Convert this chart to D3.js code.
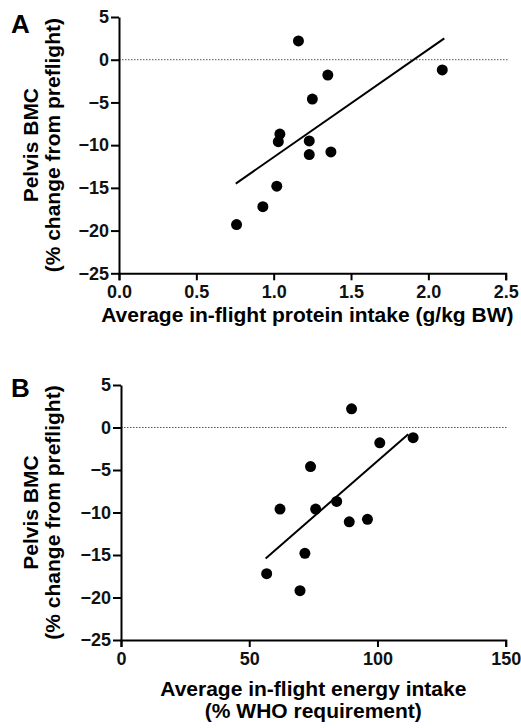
<!DOCTYPE html>
<html>
<head>
<meta charset="utf-8">
<script src="https://cdn.jsdelivr.net/npm/d3@7"></script>
<style>
  body { margin: 0; background: #fff; }
  svg { display: block; font-family: "Liberation Sans", Arial, Helvetica, sans-serif; font-weight: bold; }
  .axis path, .axis line { stroke: #000; stroke-width: 2px; }
  .axis text { font-family: "Liberation Sans", Arial, Helvetica, sans-serif; font-size: 18px; font-weight: bold; fill: #111; }
</style>
</head>
<body>
<div class="graph"></div>
<script>
// panel A: protein intake (g/kg BW) vs pelvis BMC change
var proteinX = [0.76, 0.93, 1.02, 1.03, 1.04, 1.16, 1.23, 1.23, 1.25, 1.35, 1.37, 2.09];
var proteinY = [-19.3, -17.2, -14.8, -9.6, -8.7, 2.2, -9.5, -11.1, -4.6, -1.8, -10.8, -1.2];
var fitA = [[0.755, -14.5], [2.103, 2.5]];

// panel B: energy intake (% WHO requirement) vs pelvis BMC change
var energyX = [56.8, 62.0, 69.8, 71.7, 73.9, 75.9, 84.1, 89.0, 89.9, 96.1, 100.9, 113.9];
var energyY = [-17.2, -9.6, -19.2, -14.8, -4.6, -9.6, -8.7, -11.1, 2.2, -10.8, -1.8, -1.2];
var fitB = [[56.4, -15.4], [112.0, -0.8]];

var yTicks = [5, 0, -5, -10, -15, -20, -25];
var xTicksA = [0.0, 0.5, 1.0, 1.5, 2.0, 2.5];
var xTicksB = [0, 50, 100, 150];

var svg = d3.select(".graph").append("svg")
    .attr("width", 521)
    .attr("height", 728);

function drawPanel(opt) {
  var x = d3.scaleLinear().domain(opt.xDomain).range(opt.xRange);
  var y = d3.scaleLinear().domain([-25, 5]).range(opt.yRange);

  var g = svg.append("g");

  // dotted zero line
  g.append("line")
      .attr("x1", x(opt.xDomain[0]))
      .attr("x2", x(opt.xDomain[1]) + 2)
      .attr("y1", y(0))
      .attr("y2", y(0))
      .attr("stroke", "#555")
      .attr("stroke-width", 1)
      .attr("stroke-dasharray", "1.5,1.5");

  g.append("g")
      .attr("class", "axis")
      .attr("transform", "translate(0," + opt.yRange[0] + ")")
      .call(d3.axisBottom(x).tickValues(opt.xTicks).tickFormat(opt.xFormat)
        .tickSizeOuter(7).tickSizeInner(7).tickPadding(5));

  g.append("g")
      .attr("class", "axis")
      .attr("transform", "translate(" + opt.xRange[0] + ",0)")
      .call(d3.axisLeft(y).tickValues(yTicks).tickFormat(d3.format("d"))
        .tickSizeOuter(0).tickSizeInner(8).tickPadding(2));

  // fit line
  g.append("line")
      .attr("x1", x(opt.fit[0][0]))
      .attr("y1", y(opt.fit[0][1]))
      .attr("x2", x(opt.fit[1][0]))
      .attr("y2", y(opt.fit[1][1]))
      .attr("stroke", "#000")
      .attr("stroke-width", 2);

  g.selectAll(".dot")
      .data(opt.xs)
      .enter().append("circle")
      .attr("class", "dot")
      .attr("cx", function(d) { return x(d); })
      .attr("cy", function(d, i) { return y(opt.ys[i]); })
      .attr("r", 5.5)
      .attr("fill", "#000");

  // y title, two lines
  var cy = (opt.yRange[0] + opt.yRange[1]) / 2;
  g.append("text")
      .attr("transform", "translate(38," + cy + ") rotate(-90)")
      .attr("text-anchor", "middle")
      .style("font-size", "21px")
      .text("Pelvis BMC");
  g.append("text")
      .attr("transform", "translate(60," + cy + ") rotate(-90)")
      .attr("text-anchor", "middle")
      .style("font-size", "21px")
      .text("(% change from preflight)");

  var cx = (opt.xRange[0] + opt.xRange[1]) / 2;
  opt.xTitle.forEach(function(line, i) {
    g.append("text")
        .attr("x", cx - opt.titleShift)
        .attr("y", opt.titleY + i * 22)
        .attr("text-anchor", "middle")
        .style("font-size", "21px")
        .text(line);
  });

  g.append("text")
      .attr("x", 11)
      .attr("y", opt.letterY)
      .style("font-size", "26px")
      .text(opt.letter);
}

drawPanel({
  xDomain: [0, 2.5], xRange: [119, 505.7], yRange: [273.3, 17],
  xTicks: xTicksA, xFormat: d3.format(".1f"),
  xs: proteinX, ys: proteinY, fit: fitA,
  xTitle: ["Average in-flight protein intake (g/kg BW)"], titleY: 322, titleShift: 5,
  letter: "A", letterY: 33
});

drawPanel({
  xDomain: [0, 150], xRange: [121, 505.7], yRange: [640, 385],
  xTicks: xTicksB, xFormat: d3.format("d"),
  xs: energyX, ys: energyY, fit: fitB,
  xTitle: ["Average in-flight energy intake", "(% WHO requirement)"], titleY: 696, titleShift: 0,
  letter: "B", letterY: 397
});
</script>
</body>
</html>
